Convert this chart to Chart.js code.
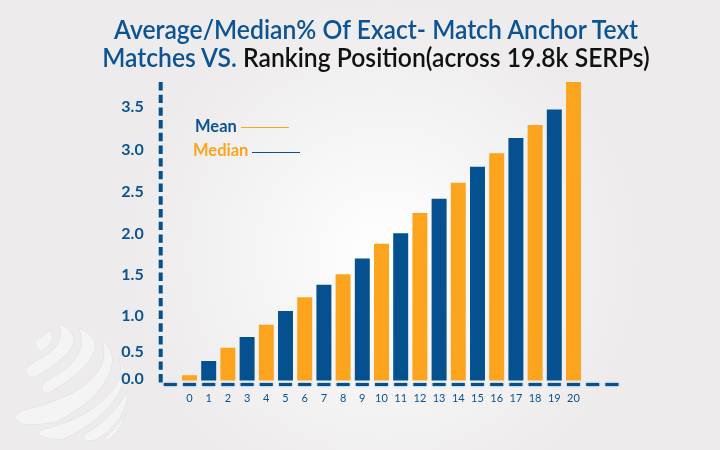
<!DOCTYPE html>
<html>
<head>
<meta charset="utf-8">
<style>
    html, body { margin: 0; padding: 0; }
    body {
        position: relative; width: 720px; height: 450px; overflow: hidden;
        font-family: Lato, sans-serif;
        background: radial-gradient(circle 250px at 385px 255px, #ffffff 0%, #f6f5f6 50%, #edebec 100%);
    }
    #logo, #myChart { position: absolute; left: 0; top: 0; }
    .title {
        position: absolute; left: 0; width: 752px; text-align: center; white-space: nowrap;
        font-size: 26px; font-weight: 600; line-height: 28px; color: #0b5394;
        transform: scaleX(0.95);
    }
    .title span { color: #111; }
    .key { position: absolute; font-size: 16.5px; font-weight: 700; line-height: 18px; white-space: nowrap; }
    .rule { position: absolute; width: 48px; height: 1px; }
</style>
</head>
<body>
<svg id="logo" width="720" height="450">
    <g transform="translate(0,300) scale(0.3333)" fill="#f4f4f4" stroke="#e7e6e7" stroke-width="3">
        <path d="M105 125 L150 90 Q162 105 155 125 Q140 145 122 155 Q105 140 105 125Z"/>
        <path d="M175 73 Q222 85 222 125 Q215 165 105 232 Q80 235 77 212 Q78 198 100 188 Q185 145 182 100 Q182 85 175 73Z"/>
        <path d="M235 82 Q285 105 287 140 Q280 200 145 280 Q125 282 125 262 Q127 248 145 240 Q245 185 245 125 Q243 100 235 82Z"/>
        <path d="M305 113 Q338 150 338 185 Q320 290 170 365 Q110 378 70 372 Q45 365 46 350 Q50 335 80 328 Q280 280 310 180 Q315 150 305 113Z"/>
        <path d="M355 165 Q375 195 375 230 Q350 340 190 418 Q150 422 115 405 Q112 395 130 388 Q310 345 365 225 Q365 195 355 165Z"/>
        <path d="M385 270 Q385 300 365 345 Q320 410 280 422 Q250 425 250 410 Q252 400 275 390 Q340 350 385 270Z"/>
        <path d="M382 335 Q365 385 330 418 Q315 425 315 412 Q350 385 382 335Z"/>
    </g>
</svg>
<canvas id="myChart" width="720" height="450"></canvas>
<div class="title" style="top: 15px">Average/Median% Of Exact- Match Anchor Text</div>
<div class="title" style="top: 43px">Matches VS. <span>Ranking Position(across 19.8k SERPs)</span></div>
<div class="key" style="left: 195px; top: 117px; color: #0b5394">Mean</div>
<div class="rule" style="left: 241px; top: 127px; background: #fda41f"></div>
<div class="key" style="left: 193px; top: 141px; color: #fda41f">Median</div>
<div class="rule" style="left: 252px; top: 152px; background: #0b5394"></div>
<script src="https://cdn.jsdelivr.net/npm/chart.js@4"></script>
<script>
var categories = ['', '0', '1', '2', '3', '4', '5', '6', '7', '8', '9', '10', '11', '12', '13', '14', '15', '16', '17', '18', '19', '20', '', '']
var medianValues = [null, 0.09, null, 0.56, null, 0.88, null, 1.23, null, 1.51, null, 1.88, null, 2.25, null, 2.61, null, 2.96, null, 3.29, null, 3.79, null, null]
var meanValues = [null, null, 0.34, null, 0.71, null, 1.06, null, 1.38, null, 1.70, null, 2.01, null, 2.42, null, 2.80, null, 3.14, null, 3.47, null, null, null]
var yTickValues = [0, 0.5, 1, 1.5, 2, 2.5, 3, 3.5]

// the axis in the picture is not evenly spaced, so it is mapped stop by stop
var axisValues = [-0.08, 0, 0.5, 1, 1.5, 2, 2.5, 3, 3.5, 3.79]
var axisPixels = [384.5, 380.5, 352, 316, 275, 234, 192, 150, 107, 82]

function mapStops(v, from, to) {
    let i = 0
    if (from[0] < from[1]) {
        while (i < from.length - 2 && v > from[i + 1]) i++
    } else {
        while (i < from.length - 2 && v < from[i + 1]) i++
    }
    return to[i] + (v - from[i]) / (from[i + 1] - from[i]) * (to[i + 1] - to[i])
}

class StopScale extends Chart.LinearScale {
    getPixelForValue(value) {
        return value === null ? NaN : mapStops(value, axisValues, axisPixels)
    }
    getValueForPixel(pixel) {
        return mapStops(pixel, axisPixels, axisValues)
    }
    getPixelForTick(index) {
        // the 0.0 label sits a little above the foot of the bars
        return super.getPixelForTick(index) - (index === 0 ? 1.5 : 0)
    }
}
StopScale.id = 'stops'
StopScale.defaults = Chart.LinearScale.defaults
Chart.register(StopScale)

const BLUE = '#05518f'
const ORANGE = '#fda41f'
const TEXT_BLUE = '#0b5394'

// border.dash only works on grid lines, so the dashed axes get drawn here
var dashedAxes = {
    id: 'dashedAxes',
    afterDatasetsDraw: function (c) {
        const area = c.chartArea
        const g = c.ctx
        g.save()
        g.strokeStyle = BLUE

        g.lineWidth = 4
        g.setLineDash([8.4, 4.3])
        g.beginPath()
        g.moveTo(area.left, area.top)
        g.lineTo(area.left, area.bottom - 2)
        g.stroke()

        g.lineWidth = 3
        g.setLineDash([13, 6.2])
        g.lineDashOffset = 16.1
        g.shadowColor = 'rgba(5, 81, 143, 0.6)'
        g.shadowBlur = 2
        g.beginPath()
        g.moveTo(area.left, area.bottom)
        g.lineTo(area.right, area.bottom)
        g.stroke()
        g.restore()
    }
}

var ctx = document.getElementById('myChart').getContext('2d')
var chart = new Chart(ctx, {
    type: 'bar',
    plugins: [dashedAxes],
    data: {
        labels: categories,
        datasets: [
            { label: 'Median', data: medianValues, backgroundColor: ORANGE },
            { label: 'Mean', data: meanValues, backgroundColor: BLUE }
        ]
    },
    options: {
        responsive: false,
        animation: false,
        devicePixelRatio: 1,
        layout: { padding: { top: 82, right: 98.5, left: 0, bottom: 0 } },
        datasets: { bar: { grouped: false, barPercentage: 0.78, categoryPercentage: 1 } },
        plugins: { legend: { display: false }, title: { display: false }, tooltip: { enabled: false } },
        scales: {
            x: {
                grid: { display: false, drawTicks: false },
                border: { display: false },
                ticks: {
                    color: TEXT_BLUE, padding: 7, autoSkip: false, maxRotation: 0,
                    font: { family: 'Lato', size: 11 }
                },
                afterFit: function (scale) { scale.height = 65.5 }
            },
            y: {
                type: 'stops',
                min: axisValues[0],
                max: axisValues[axisValues.length - 1],
                grid: { display: false, drawTicks: false },
                border: { display: false },
                afterBuildTicks: function (scale) {
                    scale.ticks = yTickValues.map(v => ({ value: v }))
                },
                ticks: {
                    color: TEXT_BLUE, padding: 17, autoSkip: false,
                    font: { family: 'Lato', size: 16, weight: 'bold' },
                    callback: v => v.toFixed(1)
                },
                afterFit: function (scale) { scale.width = 160.7 }
            }
        }
    }
})
</script>
</body>
</html>
